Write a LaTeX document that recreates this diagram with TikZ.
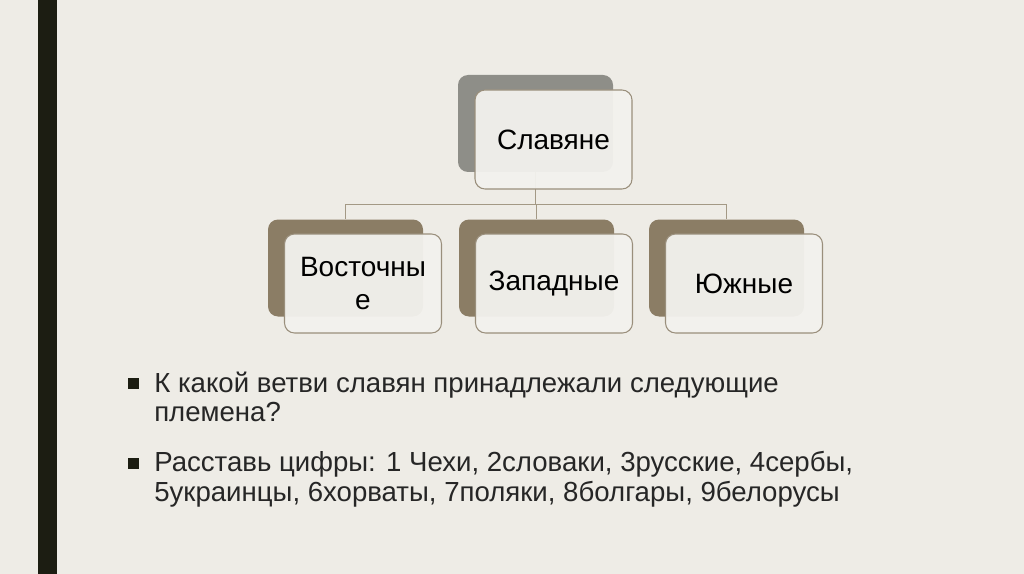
\documentclass[tikz,border=0pt]{standalone}
\usepackage{fontspec}
\setmainfont{Liberation Sans}
\definecolor{bgcol}{HTML}{EEECE6}
\definecolor{barcol}{HTML}{1C1D12}
\definecolor{graybox}{HTML}{8E8E88}
\definecolor{brownbox}{HTML}{8B7D65}
\definecolor{frontfill}{HTML}{F3F2EE}
\definecolor{edgecol}{HTML}{9A8F7C}
\definecolor{linecol}{HTML}{A39985}
\definecolor{textcol}{HTML}{262626}
\tikzset{
  backbox/.style={rounded corners=7.5pt, minimum width=116.25pt, minimum height=72.75pt, inner sep=0},
  frontbox/.style={draw=edgecol, line width=0.8pt, fill=frontfill, fill opacity=0.95, text opacity=1,
    rounded corners=7.5pt, minimum width=117.75pt, minimum height=74.25pt, inner sep=0, align=center,
    font=\fontsize{21}{25}\selectfont},
  bullettext/.style={anchor=base west, inner sep=0, font=\fontsize{20.7}{24}\selectfont, text=textcol}
}
\begin{document}
\begin{tikzpicture}[x=0.75pt,y=-0.75pt]
\useasboundingbox (0,0) rectangle (1024,574);
\fill[bgcol] (0,0) rectangle (1024,574);
\fill[barcol] (38,0) rectangle (57,574);

% back boxes
\node[backbox,fill=graybox] (slavb) at (535.5,123.5) {};
\node[backbox,fill=brownbox] (eastb) at (345.5,268) {};
\node[backbox,fill=brownbox] (westb) at (536.5,268) {};
\node[backbox,fill=brownbox] (southb) at (726.5,268) {};

% connectors
\path (slavb.south) ++(0,32) coordinate (bus);
\draw[linecol,line width=0.8pt] (slavb.south) -- (bus);
\foreach \n in {eastb,westb,southb}
  \draw[linecol,line width=0.8pt] (bus) -| (\n.north);

% front boxes
\node[frontbox] (slav) at (553.5,139.5) {Славяне};
\node[frontbox] (east) at (363,283.5) {Восточны\\е};
\node[frontbox] (west) at (554,283.5) {Западные};
\node[frontbox] (south) at (744,283.5) {Южные};

% questions
\fill[barcol] (128,378) rectangle (139,389);
\fill[barcol] (128,458) rectangle (139,469);
\node[bullettext] (q1) at (154,392) {К какой ветви славян принадлежали следующие};
\node[bullettext] (q2) at (154,421) {племена?};
\node[bullettext] (q3) at (154,471) {Расставь цифры: 1 Чехи, 2словаки, 3русские, 4сербы,};
\node[bullettext] (q4) at (154,501) {5украинцы, 6хорваты, 7поляки, 8болгары, 9белорусы};
\end{tikzpicture}
\end{document}
